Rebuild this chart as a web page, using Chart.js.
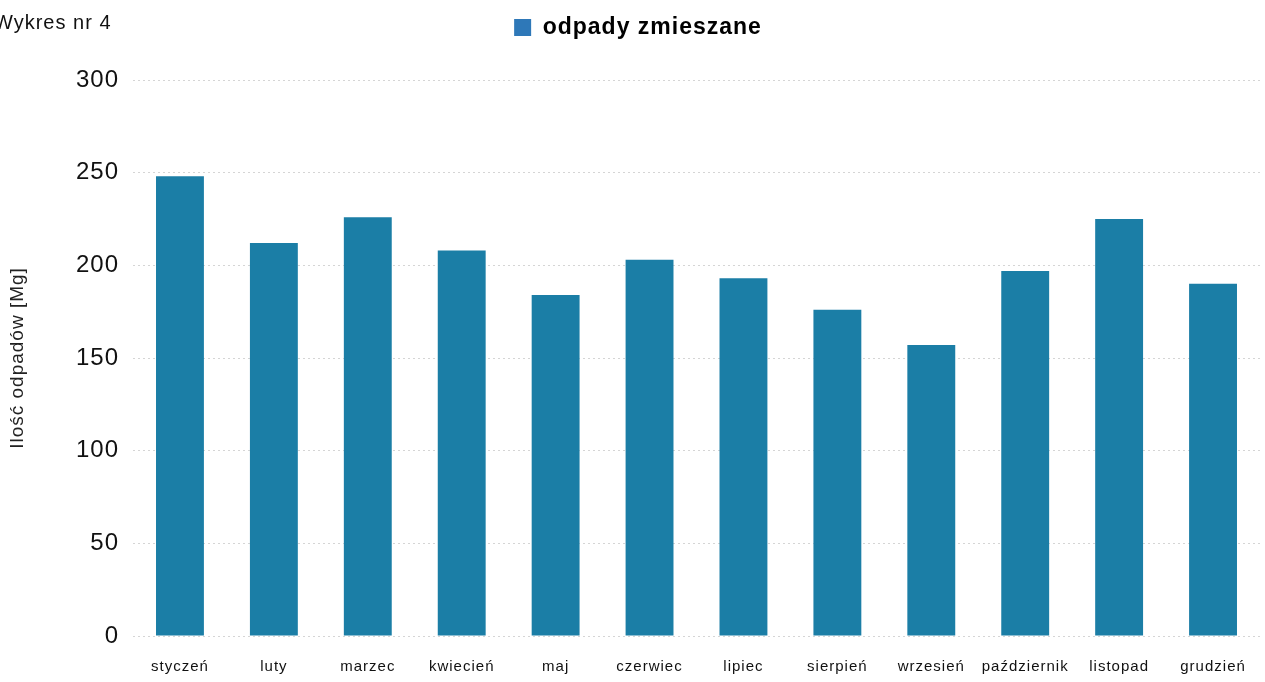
<!DOCTYPE html>
<html>
<head>
<meta charset="utf-8">
<script src="https://cdn.jsdelivr.net/npm/chart.js@4"></script>
<style>
  html, body { margin: 0; padding: 0; background: #fff; }
  #wrap { position: relative; width: 1265px; height: 682px; overflow: hidden; }
  #title { position: absolute; left: -6px; top: 11px; font: 20px "Liberation Sans", Arial, sans-serif; letter-spacing: 1px; color: #111; }
</style>
</head>
<body>
<div id="wrap">
  <div id="title">Wykres nr 4</div>
  <canvas id="chart" width="1265" height="682"></canvas>
</div>
<script>
const months = ['styczeń', 'luty', 'marzec', 'kwiecień', 'maj', 'czerwiec', 'lipiec', 'sierpień', 'wrzesień', 'październik', 'listopad', 'grudzień'];
const mixedWaste = [248, 212, 226, 208, 184, 203, 193, 176, 157, 197, 225, 190];
const yTicks = [0, 50, 100, 150, 200, 250, 300];

const barColor = '#1b7ea6';
const legendColor = '#2e78b8';

const ctx = document.getElementById('chart').getContext('2d');
new Chart(ctx, {
  type: 'bar',
  data: {
    labels: months,
    datasets: [
      {
        label: 'odpady zmieszane',
        data: mixedWaste,
        backgroundColor: barColor,
        borderWidth: 0,
        barPercentage: 0.51,
        categoryPercentage: 1,
      },
    ],
  },
  options: {
    responsive: false,
    animation: false,
    layout: { padding: { top: 0, right: 5, bottom: 0, left: 0 } },
    plugins: {
      tooltip: { enabled: false },
      legend: {
        position: 'top',
        labels: {
          font: { family: 'Liberation Sans', size: 23, weight: 'bold' },
          color: '#222',
          boxWidth: 17,
          boxHeight: 17,
          padding: 16,
          generateLabels: () => [{
            text: 'odpady zmieszane',
            fillStyle: legendColor,
            strokeStyle: legendColor,
            lineWidth: 0,
            datasetIndex: 0,
          }],
        },
      },
    },
    scales: {
      x: {
        afterFit: (scale) => { scale.height = 46; },
        grid: { display: false },
        border: { display: false },
        ticks: {
          color: '#111',
          padding: 14,
          maxRotation: 0,
          autoSkip: false,
          font: { family: 'Liberation Sans', size: 15 },
        },
      },
      y: {
        min: 0,
        max: 300,
        afterFit: (scale) => { scale.width = 133; },
        afterBuildTicks: (scale) => { scale.ticks = yTicks.map(v => ({ value: v })); },
        border: { display: false, dash: [2, 3] },
        grid: {
          color: 'rgba(150,150,150,0.4)',
          tickLength: 0,
        },
        ticks: {
          color: '#111',
          padding: 14,
          font: { family: 'Liberation Sans', size: 24 },
        },
        title: {
          display: true,
          text: 'Ilość odpadów [Mg]',
          color: '#222',
          font: { family: 'Liberation Sans', size: 19 },
          padding: { top: 6, bottom: 6 },
        },
      },
    },
  },
  plugins: [{
    id: 'layoutTweaks',
    beforeInit: (chart) => {
      // push the plot area down under the legend, like in the original
      const legend = chart.legend;
      const fit = legend.fit;
      legend.fit = function () {
        fit.call(this);
        this.height = 80;
      };
    },
    beforeDraw: (chart) => {
      chart.ctx.letterSpacing = '1px';
    },
  }],
});
</script>
</body>
</html>
